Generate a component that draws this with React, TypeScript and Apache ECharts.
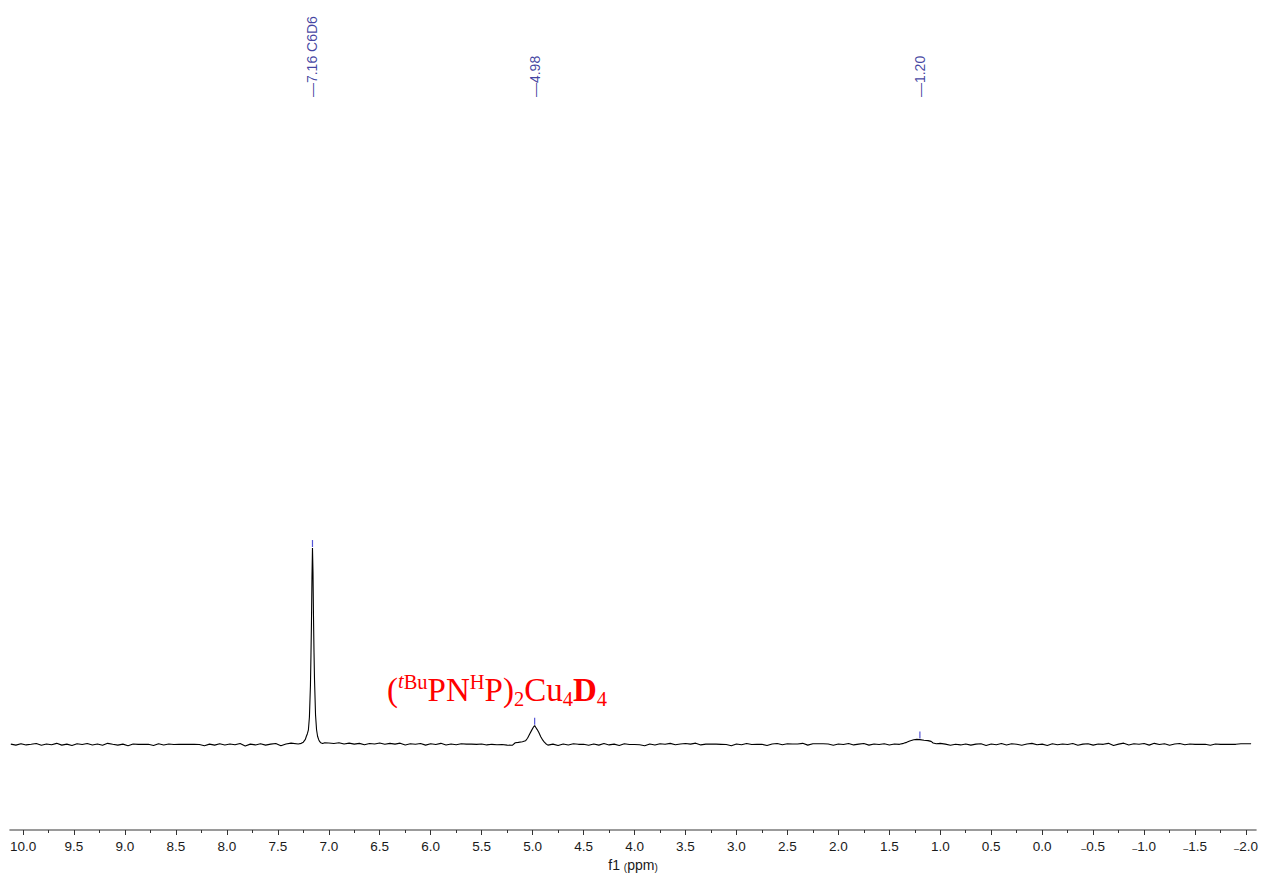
import React, { useEffect, useRef } from "react";
import * as echarts from "echarts";

// ---------- data (chemical shift in ppm, intensity in % of the tallest peak) ----------
const STEP = 0.05;

const baselineAStart = 10.12;
const baselineA = [
  0.2, -0.3, 0.4, -0.2, 0.1, 0.5, -0.4, 0.3, -0.1, 0.6, -0.3, 0.2, -0.5, 0.4, 0.0, 0.5,
  -0.2, 0.3, -0.4, 0.6, 0.1, -0.3, 0.2, -0.6, 0.3, 0.1, 0.1, 0.1, -0.5, 0.4, -0.2, 0.3,
  0.0, 0.1, 0.1, 0.1, 0.1, 0.05, -0.6, 0.2, -0.3, 0.4, -0.2, 0.3, -0.1, 0.5, -0.7, 0.2,
  -0.2, 0.4, -0.3, 0.2, 0.5, -0.6, 0.3, 0.7,
];

const peakC6D6: [number, number][] = [
  [7.3, 0.3], [7.27, 0.6], [7.25, 1.2], [7.23, 2.6], [7.22, 4.2], [7.21, 5.5], [7.2, 7.5],
  [7.19, 14], [7.18, 30], [7.175, 45], [7.17, 62], [7.165, 85], [7.16, 100], [7.155, 88],
  [7.15, 65], [7.145, 47], [7.14, 33], [7.13, 15], [7.12, 7.5], [7.11, 4.2], [7.1, 2.6],
  [7.09, 1.6], [7.08, 0.9], [7.06, 0.5], [7.04, 0.9],
];

const baselineBStart = 7.0;
const baselineB = [
  0.8, 0.5, 0.9, 0.3, 0.7, 0.2, 0.6, -0.1, 0.5, 0.3, 0.8, 0.1, 0.6, 0.2, 0.7, -0.2, 0.4,
  0.1, 0.5, -0.3, 0.4, 0.0, 0.6, -0.2, 0.3, -0.1, 0.4, 0.2, 0.2, 0.1, 0.3, -0.2, 0.1, -0.1,
  0.0, -0.3, -0.4,
];

const peakHydride: [number, number][] = [
  [5.17, 0.9], [5.14, 1.1], [5.1, 1.4], [5.07, 1.9], [5.05, 3.2], [5.03, 5.2], [5.01, 7.2],
  [4.99, 9.0], [4.98, 9.6], [4.97, 8.8], [4.955, 7.6], [4.94, 6.2], [4.92, 4.0], [4.9, 2.2],
  [4.885, 1.2], [4.87, 0.4], [4.85, -0.3],
];

const baselineCStart = 4.8;
const baselineC = [
  0.2, -0.5, 0.3, -0.2, 0.4, 0.1, 0.1, -0.4, 0.3, -0.3, 0.5, -0.2, 0.2, -0.5, 0.4, 0.0,
  0.0, -0.1, -0.6, 0.3, -0.2, 0.4, 0.1, 0.6, -0.1, 0.3, 0.5, 0.2, 0.7, -0.2, 0.2, 0.2, 0.2,
  0.1, 0.0, -0.6, 0.3, -0.1, 0.5, 0.0, 0.1, 0.1, -0.5, 0.3, 0.5, -0.1, 0.4, 0.3, 0.3, 0.6,
  -0.3, 0.4, 0.4, 0.4, 0.3, -0.4, 0.3, 0.0, 0.5, -0.2, 0.2, 0.5, -0.3, 0.3, 0.0, 0.4, -0.2,
  0.3,
];

const peakSmall: [number, number][] = [
  [1.4, 0.1], [1.36, 0.6], [1.33, 1.1], [1.3, 1.8], [1.26, 2.4], [1.23, 2.6], [1.2, 2.5],
  [1.16, 2.2], [1.12, 2.0], [1.09, 1.6], [1.07, 0.8], [1.04, 0.4], [1.0, 0.6],
];

const baselineDStart = 0.95;
const baselineD = [
  0.2, -0.4, 0.1, -0.2, 0.3, -0.3, 0.2, 0.4, -0.5, 0.3, -0.1, 0.5, -0.2, 0.4, 0.1, -0.4,
  0.3, 0.6, -0.1, 0.2, -0.5, 0.4, -0.1, 0.3, 0.0, 0.5, -0.4, 0.2, 0.4, -0.3, 0.3, 0.1, 0.6,
  -0.5, 0.2, 0.7, -0.2, 0.4, 0.1, 0.5, -0.3, 0.6, 0.0, 0.4, -0.4, 0.3, 0.5, -0.1, 0.3, 0.1,
  0.1, 0.1, -0.4, 0.3, 0.1, 0.1, 0.1, 0.1, 0.4, 0.4, 0.4, 0.4,
];

const peakPpm = [7.16, 4.98, 1.2];
const peakTop = [100, 9.6, 2.6];
const peakLabels = ["7.16 C6D6", "4.98", "1.20"];

const majorTicks = [10, 9.5, 9, 8.5, 8, 7.5, 7, 6.5, 6, 5.5, 5, 4.5, 4, 3.5, 3, 2.5, 2, 1.5, 1, 0.5, 0, -0.5, -1, -1.5, -2];
const minorTicks = [9.75, 9.25, 8.75, 8.25, 7.75, 7.25, 6.75, 6.25, 5.75, 5.25, 4.75, 4.25, 3.75, 3.25, 2.75, 2.25, 1.75, 1.25, 0.75, 0.25, -0.25, -0.75, -1.25, -1.75];

// ---------- helpers ----------
const stepped = (start: number, vals: number[]): [number, number][] =>
  vals.map((v, i) => [Math.round((start - i * STEP) * 1000) / 1000, v]);

const spectrum: [number, number][] = [
  ...stepped(baselineAStart, baselineA),
  ...peakC6D6,
  ...stepped(baselineBStart, baselineB),
  ...peakHydride,
  ...stepped(baselineCStart, baselineC),
  ...peakSmall,
  ...stepped(baselineDStart, baselineD),
].filter((p) => p[0] > -2.095);

const X_MIN = -2.098;
const X_MAX = 10.128;
const Y_MIN = -43.5;
const Y_MAX = 378.9;
const LABEL_Y = 329.5;

const SANS = "'Liberation Sans', Arial, Helvetica, sans-serif";
const SERIF = "'Liberation Serif', 'Times New Roman', serif";
const RED = "#ff0000";

export default function App() {
  const ref = useRef<HTMLDivElement>(null);

  useEffect(() => {
    if (!ref.current) return;
    const chart = echarts.init(ref.current, undefined, { renderer: "svg" });

    const fmt = (v: number) => {
      const s = Math.abs(v).toFixed(1);
      return v < 0 ? "{m|–}" + s : s;
    };

    chart.setOption({
      animation: false,
      backgroundColor: "#ffffff",
      grid: { left: 10, right: 7, top: 0, bottom: 46, containLabel: false, outerBoundsMode: "none" },
      xAxis: [
        {
          type: "value",
          inverse: true,
          min: X_MIN,
          max: X_MAX,
          position: "bottom",
          axisLine: { show: true, onZero: false, lineStyle: { color: "#7a7a7a", width: 1.6 } },
          axisTick: { show: true, customValues: majorTicks, length: 5, lineStyle: { color: "#333", width: 1 } },
          axisLabel: {
            show: true,
            customValues: majorTicks,
            formatter: fmt,
            margin: 9,
            fontSize: 13.5,
            fontFamily: SANS,
            color: "#1a1a1a",
            rich: { m: { fontSize: 9, fontFamily: SANS, color: "#1a1a1a", verticalAlign: "bottom" } },
          },
          splitLine: { show: false },
          name: "{a|f1 }{b|(}{a|ppm}{b|)}",
          nameLocation: "middle",
          nameGap: 28,
          nameTextStyle: {
            rich: {
              a: { fontSize: 14, fontFamily: SANS, color: "#1a1a1a" },
              b: { fontSize: 10, fontFamily: SANS, color: "#1a1a1a", verticalAlign: "bottom" },
            },
          },
        },
        {
          type: "value",
          inverse: true,
          min: X_MIN,
          max: X_MAX,
          position: "bottom",
          offset: 0,
          axisLine: { show: false, onZero: false },
          axisTick: { show: true, customValues: minorTicks, length: 3, lineStyle: { color: "#333", width: 1 } },
          axisLabel: { show: false },
          splitLine: { show: false },
        },
      ],
      yAxis: { type: "value", min: Y_MIN, max: Y_MAX, show: false },
      series: [
        {
          type: "line",
          data: spectrum,
          showSymbol: false,
          symbol: "none",
          lineStyle: { color: "#000000", width: 1.1 },
          clip: false,
          z: 2,
        },
        {
          type: "scatter",
          data: peakPpm.map((p, i) => [p, peakTop[i]]),
          symbol: "rect",
          symbolSize: [1.2, 7],
          symbolOffset: [0, -4.5],
          itemStyle: { color: "#2b2bcc" },
          clip: false,
          silent: true,
          z: 3,
        },
        {
          type: "scatter",
          data: peakPpm.map((p, i) => [p, LABEL_Y, peakLabels[i]]),
          symbolSize: 0,
          clip: false,
          silent: true,
          label: {
            show: true,
            position: [0, 0],
            rotate: 90,
            align: "left",
            verticalAlign: "middle",
            formatter: (pr: any) => "—" + pr.data[2],
            fontSize: 14,
            fontFamily: SANS,
            color: "#12128a",
          },
          z: 3,
        },
      ],
      graphic: [
        {
          type: "text",
          left: 387,
          top: 671,
          style: {
            text: "{n|(}{si|t}{s|Bu}{n|PN}{s|H}{n|P)}{b|2}{n|Cu}{b|4}{d|D}{b|4}",
            fill: RED,
            font: `33px ${SERIF}`,
            rich: {
              n: { fontSize: 33, fontFamily: SERIF, lineHeight: 38, verticalAlign: "middle", fill: RED },
              si: { fontSize: 20.5, fontFamily: SERIF, fontStyle: "italic", lineHeight: 24, verticalAlign: "top", fill: RED },
              s: { fontSize: 20.5, fontFamily: SERIF, lineHeight: 24, verticalAlign: "top", fill: RED },
              b: { fontSize: 20.5, fontFamily: SERIF, lineHeight: 23, verticalAlign: "bottom", fill: RED },
              d: { fontSize: 33, fontFamily: SERIF, fontWeight: "bold", lineHeight: 38, verticalAlign: "middle", fill: RED },
            },
          },
        },
      ],
    });

    return () => chart.dispose();
  }, []);

  return (
    <div
      ref={ref}
      style={{ position: "absolute", left: 0, top: 0, width: 1263, height: 876, background: "#fff" }}
    />
  );
}
